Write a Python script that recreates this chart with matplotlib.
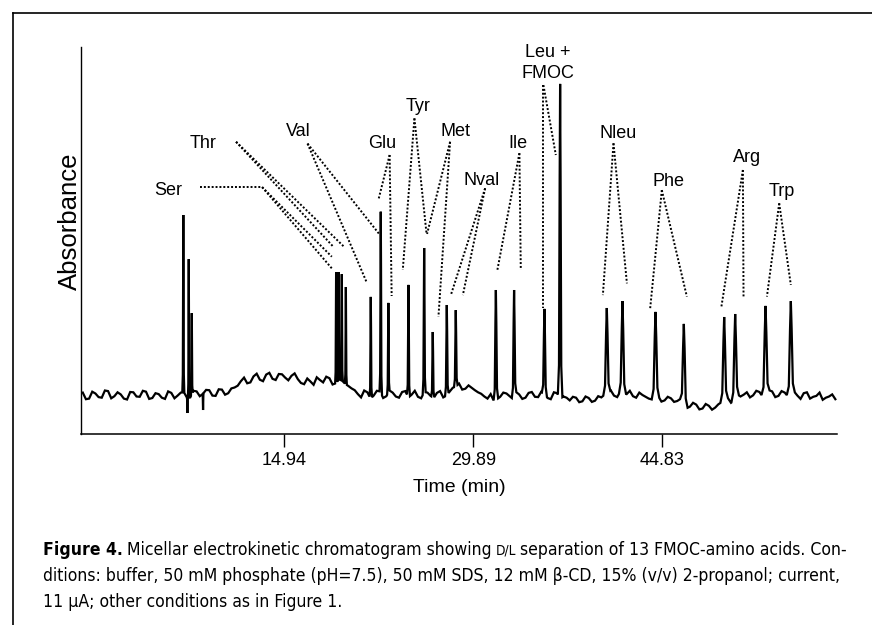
import numpy as np
import matplotlib
matplotlib.use("Agg")
import matplotlib.pyplot as plt
from matplotlib import font_manager
from matplotlib.lines import Line2D

# ---------------- data ----------------
# peak apex times (min) and apex absorbance (arbitrary units), half base widths (min)
peak_times = [6.95, 7.38, 7.62, 19.03, 19.24, 19.48, 19.80, 21.77, 22.56, 23.16,
              24.75, 25.99, 26.67, 27.78, 28.49, 31.66, 33.10, 35.50, 36.74,
              40.43, 41.67, 44.28, 46.52, 49.71, 50.58, 52.98, 54.98]
peak_heights = [60.0, 45.3, 27.3, 41.0, 41.0, 40.3, 36.0, 32.7, 61.1, 30.7,
                36.7, 49.0, 21.0, 30.0, 28.3, 35.0, 35.0, 28.7, 103.7,
                29.0, 31.3, 27.7, 23.7, 26.0, 27.0, 29.7, 31.3]
peak_halfwidths = [0.08, 0.07, 0.07, 0.08, 0.08, 0.08, 0.08, 0.10, 0.10, 0.10,
                   0.12, 0.12, 0.12, 0.14, 0.14, 0.18, 0.18, 0.20, 0.18,
                   0.28, 0.28, 0.30, 0.30, 0.30, 0.30, 0.32, 0.32]
# negative system spikes
dip_times = [7.27, 8.51]
dip_depths = [-6.0, -5.0]
dip_halfwidths = [0.04, 0.05]

# baseline readings every 0.5 min starting at -1.0 min
baseline_start = -1.0
baseline_step = 0.5
baseline_values = [
    0.8, -1.2, 0.5, -0.9, 1.3, -0.4, 0.2, -1.5, 0.9, -0.6, 1.1, -1.0, 0.3, -1.3, 0.7, -0.2,
    0.9, -0.8, 1.2, 0.4, 1.6, -0.3, 1.8, 0.6,
    2.5, 4.6, 3.9, 6.2, 5.1, 6.8, 5.4, 7.0, 5.8, 6.4,
    5.3, 3.6, 4.5, 5.9, 4.2, 5.6, 3.9, 4.8, 3.0,
    1.6, -0.8, 0.9, -0.2,
    1.2, -0.4, 0.8, -0.9, 1.3, 0.1, -0.6, 1.0, -0.3, 0.7, -0.8, 1.1,
    2.9, 1.8, 3.2, 1.6,
    0.4, -1.2, -2.0, -0.6,
    0.5, -1.3, 0.2, -0.9, 1.0, -0.7, 0.3, -1.4, 0.6, -0.5,
    -1.8, -0.9, -2.1, -1.0, -1.9, -0.8,
    0.9, -0.2, 1.2, 0.3, -0.4, 0.8,
    -0.6, -1.5, -0.4, -1.8, -1.1, -2.0,
    -2.8, -3.9, -3.2, -4.5, -3.6, -4.2,
    -2.4, -1.0, -1.8, -0.5,
    0.9, -0.1, 1.0, 0.2, 1.2, -0.3, 0.8, 0.4, -0.2,
    0.6, -1.2, -0.3, -1.6, -0.5, -1.4,
]
# baseline readings half-way between the ones above (-0.75, -0.25, ... min)
baseline_mid_values = [
    -1.4, 1.1, -0.7, 1.5, -1.1, 0.9, -1.2, 1.0, -0.5, 1.4, -1.3, 0.6, -0.9, 1.2, -1.1, 0.8,
    -1.0, 1.4, -0.4, 1.7, -0.2, 1.9, 0.1, 2.2,
    3.1, 5.8, 4.2, 7.1, 4.6, 7.4, 5.0, 6.9, 4.9, 7.2,
    4.0, 5.5, 3.4, 5.0, 6.1, 3.5, 5.2, 3.7, 2.2,
    0.3, 1.5, -1.2, 1.4,
    -1.0, 1.5, -0.5, 1.0, -0.8, 1.4, -1.1, 0.8, -1.0, 1.3, -0.2, 2.4,
    3.8, 2.1, 2.4, 0.9,
    -0.5, 0.3, -1.4, 0.8,
    -0.4, 1.0, -1.3, 0.7, -0.6, 1.1, -1.0, 0.9, -1.2, -0.9,
    -0.6, -2.4, -0.5, -2.3, -0.4, 0.1,
    1.5, -0.7, 0.6, 1.4, -0.9, 0.0,
    -1.2, -0.3, -2.2, -0.6, -2.3, -1.3,
    -4.4, -2.6, -4.8, -3.0, -4.9, -3.1,
    -1.5, -2.6, 0.2, 0.1,
    -0.8, 1.4, -0.6, 1.6, -0.7, 1.3, -0.5, 1.1, -1.3,
    0.9, -0.6, 0.8, -0.9, 0.2,
]

tick_values = [14.94, 29.89, 44.83]
tick_labels = ["14.94", "29.89", "44.83"]

# peak labels: text, x (min), baseline y
label_texts = ["Ser", "Thr", "Val", "Glu", "Tyr", "Met", "Nval", "Ile",
               "Leu +", "FMOC", "Nleu", "Phe", "Arg", "Trp"]
label_x = [5.74, 8.51, 16.02, 22.67, 25.51, 28.44, 30.57, 33.42,
           35.77, 35.77, 41.33, 45.28, 51.53, 54.30]
label_y = [66.8, 82.5, 86.2, 82.3, 94.7, 86.2, 70.0, 82.3,
           112.8, 105.6, 85.5, 69.7, 77.5, 66.2]

# dotted leader lines: (x0, y0, x1, y1)
leader_lines = [
    (8.27, 69.3, 13.18, 69.3), (13.18, 69.3, 18.69, 42.2), (13.18, 69.3, 18.69, 46.1),   # Ser
    (11.12, 84.4, 18.79, 49.5), (11.12, 84.4, 19.66, 49.4),                               # Thr
    (16.77, 83.8, 21.46, 37.4), (16.77, 83.8, 22.43, 53.7),                               # Val
    (23.26, 80.0, 22.37, 65.0), (23.26, 80.0, 23.42, 33.0),                               # Glu
    (25.22, 92.2, 24.30, 41.7), (25.22, 92.2, 26.18, 53.7),                               # Tyr
    (28.04, 84.4, 26.22, 53.7), (28.04, 84.4, 27.12, 26.1),                               # Met
    (30.81, 68.9, 28.10, 33.3), (30.81, 68.9, 29.05, 33.3),                               # Nval
    (33.52, 80.6, 31.78, 41.7), (33.52, 80.6, 33.63, 41.7),                               # Ile
    (35.42, 103.3, 35.42, 28.9), (35.42, 103.3, 36.40, 80.0),                             # Leu + FMOC
    (40.96, 83.9, 40.12, 33.3), (40.96, 83.9, 42.02, 37.2),                               # Nleu
    (44.78, 68.3, 43.86, 28.9), (44.78, 68.3, 46.76, 32.8),                               # Phe
    (51.19, 75.0, 49.47, 28.9), (51.19, 75.0, 51.24, 32.8),                               # Arg
    (54.06, 63.9, 53.09, 32.8), (54.06, 63.9, 54.98, 36.7),                               # Trp
]

caption_bold = "Figure 4."
caption_line1 = ["Micellar electrokinetic chromatogram showing", "D/L",
                 "separation of 13 FMOC-amino acids. Con-"]
caption_line2 = "ditions: buffer, 50 mM phosphate (pH=7.5), 50 mM SDS, 12 mM \u03b2-CD, 15% (v/v) 2-propanol; current,"
caption_line3 = "11 \u03bcA; other conditions as in Figure 1."

# ---------------- figure ----------------
W, H = 872, 625
fig = plt.figure(figsize=(W / 100, H / 100), dpi=100)
fig.patch.set_facecolor("white")
SANS = ["Liberation Sans", "DejaVu Sans"]

ax = fig.add_axes([81 / W, 1 - 434 / H, (837 - 81) / W, (434 - 47) / H])
ax.set_xlim(-1.14, 58.63)
ax.set_ylim(-13, 116)
ax.patch.set_alpha(0)

# build chromatogram trace from baseline readings and peak list
bt_main = baseline_start + baseline_step * np.arange(len(baseline_values))
bt_mid = baseline_start + baseline_step / 2 + baseline_step * np.arange(len(baseline_mid_values))
bt_all = np.concatenate([bt_main, bt_mid])
bv_all = np.concatenate([np.array(baseline_values, float), np.array(baseline_mid_values, float)])
o = np.argsort(bt_all)
bt = bt_all[o]
bv = bv_all[o]

all_t = list(peak_times) + list(dip_times)
all_h = list(peak_heights) + list(dip_depths)
all_w = list(peak_halfwidths) + list(dip_halfwidths)
keep = np.ones(len(bt), dtype=bool)
for t, w in zip(all_t, all_w):
    keep &= ~((bt > t - w) & (bt < t + w))
xs = list(bt[keep])
ys = list(bv[keep])
shape_k = np.array([-1.0, -0.5, -0.2, 0.0, 0.2, 0.5, 1.0])
shape_f = np.array([0.0, 0.1, 0.7, 1.0, 0.7, 0.1, 0.0])
for t, h, w in zip(all_t, all_h, all_w):
    px = t + shape_k * w
    base = np.interp(px, bt, bv)
    xs += list(px)
    ys += list(base + shape_f * (h - base))
order = np.argsort(xs, kind="stable")
ax.plot(np.array(xs)[order], np.array(ys)[order], color="black", lw=1.6,
        solid_joinstyle="miter")

# leader lines
for x0, y0, x1, y1 in leader_lines:
    ax.plot([x0, x1], [y0, y1], color="black", lw=1.4, linestyle=(0, (1.0, 1.0)),
            dash_capstyle="butt")

for s, x, y in zip(label_texts, label_x, label_y):
    ax.text(x, y, s, ha="center", va="baseline", fontsize=13, family=SANS, color="black")

# axes styling
for side in ("top", "right"):
    ax.spines[side].set_visible(False)
ax.spines["left"].set_linewidth(1.0)
ax.spines["bottom"].set_linewidth(1.1)
ax.set_yticks([])
ax.set_xticks(tick_values)
ax.set_xticklabels(tick_labels, fontsize=13, family=SANS)
ax.tick_params(axis="x", direction="out", length=9.5, width=1.0, pad=3.5)
ax.set_xlabel("Time (min)", fontsize=14, family=SANS, labelpad=7)
fig.text(70 / W, 1 - 221 / H, "Absorbance", rotation=90, ha="center", va="center",
         fontsize=18.5, family=SANS)

# frame lines
fig.add_artist(Line2D([13 / W, 1.0], [1 - 13 / H, 1 - 13 / H], transform=fig.transFigure,
                      color="black", lw=1.2))
fig.add_artist(Line2D([13 / W, 13 / W], [1 - 13 / H, 0.0], transform=fig.transFigure,
                      color="black", lw=1.2))

# ---------------- caption ----------------
names = {f.name for f in font_manager.fontManager.ttflist}
cap_stretch = "normal"
if "Liberation Sans Narrow" in names:
    CAP = ["Liberation Sans Narrow", "DejaVu Sans"]
elif any(f.name == "DejaVu Sans" and str(f.stretch) in ("condensed", "semi-condensed")
         for f in font_manager.fontManager.ttflist):
    CAP = ["DejaVu Sans"]
    cap_stretch = "condensed"
else:
    CAP = ["Liberation Sans", "DejaVu Sans"]

x_left = 43 / W
base1, base2, base3 = 1 - 555 / H, 1 - 581 / H, 1 - 607 / H


def build_caption(size):
    arts = []
    gap = 0.24 * size
    t0 = fig.text(x_left, base1, caption_bold, fontsize=size, weight="bold",
                  family=CAP, fontstretch=cap_stretch, va="baseline", ha="left")
    arts.append(t0)
    prev = t0
    sizes = [size, size * 0.78, size]
    for seg, sz in zip(caption_line1, sizes):
        a = ax.annotate(seg, xy=(1, base1), xycoords=(prev, "figure fraction"),
                        xytext=(gap, 0), textcoords="offset points",
                        fontsize=sz, family=CAP, fontstretch=cap_stretch,
                        va="baseline", ha="left", annotation_clip=False)
        arts.append(a)
        prev = a
    arts.append(fig.text(x_left, base2, caption_line2, fontsize=size, family=CAP,
                         fontstretch=cap_stretch, va="baseline", ha="left"))
    arts.append(fig.text(x_left, base3, caption_line3, fontsize=size, family=CAP,
                         fontstretch=cap_stretch, va="baseline", ha="left"))
    return arts


size = 14.0
arts = build_caption(size)
fig.canvas.draw()
r = fig.canvas.get_renderer()
right = arts[3].get_window_extent(r).x1
target = 850.0
factor = (target - 43.0) / (right - 43.0)
for a in arts:
    a.remove()
arts = build_caption(size * factor)

fig.savefig("out.png", dpi=100, facecolor="white")
